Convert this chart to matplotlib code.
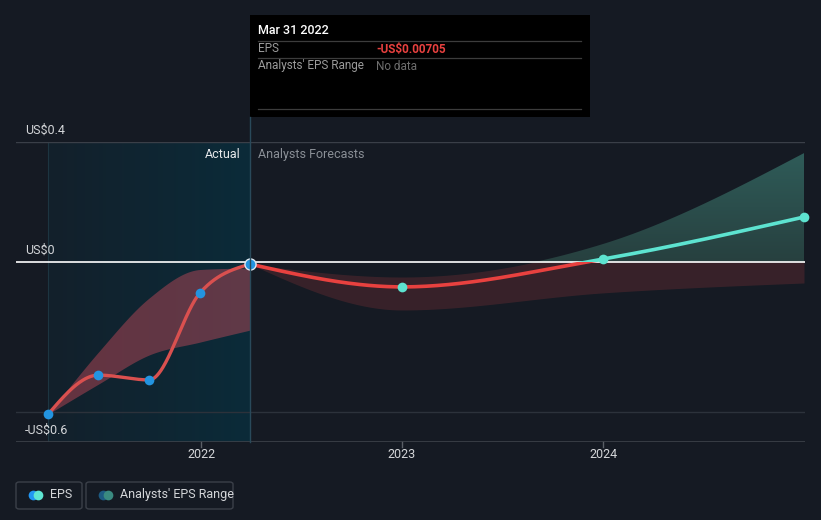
import numpy as np
import matplotlib
matplotlib.use("Agg")
import matplotlib.pyplot as plt
from matplotlib.patches import FancyBboxPatch, Rectangle
from matplotlib.lines import Line2D
from matplotlib.colors import LinearSegmentedColormap

plt.rcParams['font.family'] = ['Roboto', 'DejaVu Sans']

# ---------------- data ----------------
past_x = [2021.24, 2021.49, 2021.742, 2021.995, 2022.244]
past_eps = [-0.507, -0.377, -0.393, -0.103, -0.00705]
past_hi = [-0.507, -0.30, -0.12, -0.025, -0.02]
past_lo = [-0.507, -0.407, -0.31, -0.267, -0.227]

fc_x = [2022.244, 2023.0, 2024.0, 2025.0]
fc_eps = [-0.00705, -0.083, 0.01, 0.15]
fc_hi = [-0.00705, -0.05, 0.06, 0.363]
fc_lo = [-0.00705, -0.16, -0.103, -0.07]

xticks = [2022, 2023, 2024]
xtick_labels = ["2022", "2023", "2024"]
yticks = [0.4, 0.0, -0.6]
ytick_labels = ["US$0.4", "US$0", "-US$0.6"]

BG = '#151a23'
W, H = 821, 520


def monotone(x, y, n=300):
    x = np.asarray(x, float); y = np.asarray(y, float)
    h = np.diff(x); s = np.diff(y) / h
    m = np.zeros(len(x))
    for k in range(1, len(x) - 1):
        s0, s1 = s[k - 1], s[k]
        p = (s0 * h[k] + s1 * h[k - 1]) / (h[k - 1] + h[k])
        m[k] = (np.sign(s0) + np.sign(s1)) * min(abs(s0), abs(s1), 0.5 * abs(p))
    if len(x) > 2:
        m[0] = (3 * s[0] - m[1]) / 2
        m[-1] = (3 * s[-1] - m[-2]) / 2
    else:
        m[:] = s[0]
    xs = np.linspace(x[0], x[-1], n)
    ys = np.empty_like(xs)
    for i, xv in enumerate(xs):
        k = min(np.searchsorted(x, xv, side='right') - 1, len(x) - 2)
        t = (xv - x[k]) / h[k]
        h00 = 2 * t**3 - 3 * t**2 + 1
        h10 = t**3 - 2 * t**2 + t
        h01 = -2 * t**3 + 3 * t**2
        h11 = t**3 - t**2
        ys[i] = h00 * y[k] + h10 * h[k] * m[k] + h01 * y[k + 1] + h11 * h[k] * m[k + 1]
    return xs, ys


fig = plt.figure(figsize=(W / 100, H / 100), dpi=100, facecolor=BG)
L, R, T, B = 16, 805, 142, 442
ax = fig.add_axes([L / W, 1 - B / H, (R - L) / W, (B - T) / H])
ax.set_facecolor(BG)
x0 = 2022 - (201 - L) / 201
x1 = 2022 + (R - 201) / 201
ax.set_xlim(x0, x1)
ax.set_ylim(-0.6, 0.4)
for sp in ax.spines.values():
    sp.set_visible(False)
ax.set_xticks([]); ax.set_yticks([])

# actual region gradient
grad = np.linspace(0, 1, 256).reshape(1, -1)
cmap = LinearSegmentedColormap.from_list('g', ['#13202b', '#0b2b39'])
ax.imshow(grad, extent=[past_x[0], past_x[-1], -0.6, 0.4], aspect='auto', cmap=cmap, zorder=0)
ax.axvline(past_x[0], color='#1d3541', lw=0.8, zorder=1)

# grid lines
ax.axhline(0.4, color='#3a3f48', lw=1, zorder=1)
ax.axhline(-0.5, color='#2c323b', lw=1, zorder=1)
ax.axhline(-0.6, color='#3d424a', lw=1.2, zorder=1)
for xt in xticks:
    ax.plot([xt, xt], [-0.6, -0.617], color='#5a5f66', lw=1, clip_on=False)

# past band
pxs, phi = monotone(past_x, past_hi)
_, plo = monotone(past_x, past_lo)
ax.fill_between(pxs, plo, phi, color='#e05060', alpha=0.4, lw=0, zorder=2)

# forecast band
fxs, fhi = monotone(fc_x, fc_hi)
_, flo = monotone(fc_x, fc_lo)
ax.fill_between(fxs, np.minimum(flo, 0), np.minimum(fhi, 0), color='#e04848', alpha=0.17, lw=0, zorder=2)
poly = ax.fill_between(fxs, np.maximum(flo, 0), np.maximum(fhi, 0), color='none', lw=0, zorder=2)
tcmap = LinearSegmentedColormap.from_list('t', ['#27403f', '#2f5c59'])
im = ax.imshow(np.linspace(0, 1, 256).reshape(-1, 1), extent=[fc_x[0], fc_x[-1], 0, 0.37],
               origin='lower', aspect='auto', cmap=tcmap, zorder=2)
im.set_clip_path(poly.get_paths()[0], transform=ax.transData)

# zero line
ax.axhline(0, color='#ffffff', lw=1.2, zorder=3)

# EPS lines
_, pe = monotone(past_x, past_eps)
ax.plot(pxs, pe, color='#d9504f', lw=2.4, zorder=4, solid_capstyle='round')
_, fe = monotone(fc_x, fc_eps)
below = ax.plot(fxs, fe, color='#e8413f', lw=2.6, zorder=4)[0]
above = ax.plot(fxs, fe, color='#5de3d0', lw=2.6, zorder=4)[0]
clip_b = Rectangle((x0, -1), x1 - x0, 1, transform=ax.transData)
clip_a = Rectangle((x0, 0), x1 - x0, 1, transform=ax.transData)
below.set_clip_path(clip_b)
above.set_clip_path(clip_a)

# markers
ax.plot(past_x[:-1], past_eps[:-1], 'o', color='#2394e0', ms=7, zorder=5, mec='none')
ax.plot(past_x[-1], past_eps[-1], 'o', color='#2394e0', ms=8, zorder=5, mec='#dfe8f0', mew=1)
ax.plot(fc_x[1:], fc_eps[1:], 'o', color='#5de3d0', ms=7, zorder=5, mec='none', clip_on=False)


def ftext(x, y, s, **kw):
    fig.text(x / W, 1 - y / H, s, **kw)


# y labels
for v, lab in zip(yticks, ytick_labels):
    ypx = T + (0.4 - v) / 1.0 * (B - T)
    ftext(25, ypx - 12, lab, color='#d4d6d9', fontsize=9, va='center', ha='left')
# x labels
for xt, lab in zip(xticks, xtick_labels):
    xpx = L + (xt - x0) / (x1 - x0) * (R - L)
    ftext(xpx, 455, lab, color='#d4d6d9', fontsize=9, va='center', ha='center')

ftext(241, 154, 'Actual', color='#e6e8ea', fontsize=9, va='center', ha='right')
ftext(258, 154, 'Analysts Forecasts', color='#8a8f96', fontsize=9, va='center', ha='left')

# vertical divider line
fig.add_artist(Line2D([250 / W, 250 / W], [1 - 442 / H, 1 - 117 / H], color='#29495a', lw=1))

# tooltip
fig.add_artist(Rectangle((250 / W, 1 - 117 / H), 340 / W, 102 / H, facecolor='#000000', edgecolor='none'))
ftext(258, 31, 'Mar 31 2022', color='#ffffff', fontsize=9, va='center', ha='left', fontweight='medium')
for yy in (41, 58, 109):
    fig.add_artist(Line2D([258 / W, 581 / W], [1 - yy / H, 1 - yy / H], color='#3c3c3c', lw=0.9))
ftext(258, 49, 'EPS', color='#9b9b9b', fontsize=8.5, va='center', ha='left')
ftext(376, 49, '-US$0.00705', color='#e8413f', fontsize=8.5, va='center', ha='left', fontweight='bold')
ftext(258, 66, "Analysts' EPS Range", color='#9b9b9b', fontsize=8.5, va='center', ha='left')
ftext(376, 66, 'No data', color='#6e6e6e', fontsize=8.5, va='center', ha='left')

# legend
for (bx, bw) in ((16, 66), (86, 147)):
    fig.add_artist(FancyBboxPatch((bx / W, 1 - 509 / H), bw / W, 27 / H,
                                  boxstyle='round,pad=0,rounding_size=0.004',
                                  facecolor='none', edgecolor='#3b4049', lw=1))
ly = 1 - 494.5 / H
fig.add_artist(Line2D([33 / W], [ly], marker='o', color='#2196f3', ms=7, mec='none'))
fig.add_artist(Line2D([38 / W], [ly], marker='o', color='#5ee6d3', ms=7, mec='none'))
ftext(50, 494.5, 'EPS', color='#d4d6d9', fontsize=9, va='center', ha='left')
fig.add_artist(Line2D([103 / W], [ly], marker='o', color='#1d5a82', ms=7, mec='none'))
fig.add_artist(Line2D([108 / W], [ly], marker='o', color='#3a8a80', ms=7, mec='none'))
ftext(120, 494.5, "Analysts' EPS Range", color='#d4d6d9', fontsize=9, va='center', ha='left')

fig.savefig('out.png', dpi=100, facecolor=BG)
